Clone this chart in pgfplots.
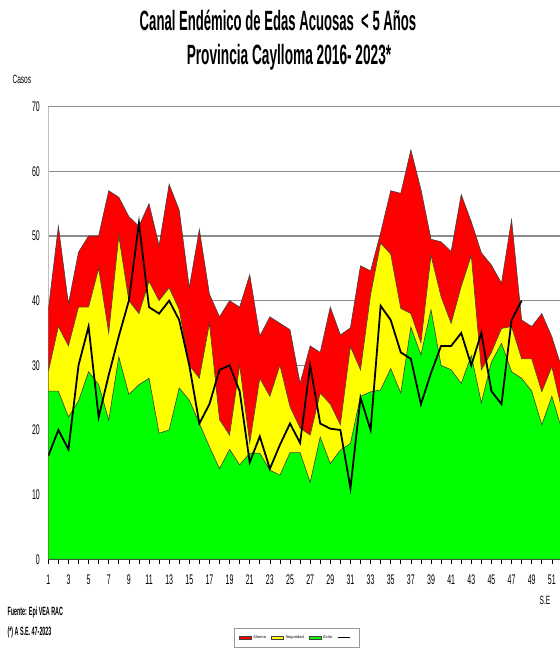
\documentclass[border=0pt]{standalone}
\usepackage{fontspec}
\setmainfont{Liberation Sans}
\usepackage{graphicx}
\usepackage{pgfplots}
\usepackage{pgfplotstable}
\pgfplotsset{compat=1.18}

\definecolor{alarma}{RGB}{255,0,0}
\definecolor{segur}{RGB}{255,255,0}
\definecolor{exito}{RGB}{0,255,0}

\pgfplotsset{
  areaimg/.style={legend image code/.code={\draw[##1] (0bp,-1.5bp) rectangle (12bp,1.5bp);}},
  lineimg/.style={legend image code/.code={\draw[##1, line width=1bp] (0bp,0bp) -- (12bp,0bp);}},
}

\pgfplotstableread{
w g y r
1 26 29 38.5
2 26 36 51.5
3 22 33 39.5
4 24.5 39 47.5
5 29 39 50
6 27 45 50
7 21.5 35 57
8 31.3 50 56
9 25.5 40 53
10 27 38 51.5
11 28 43 55
12 19.5 40 48.5
13 20 42 58
14 26.5 38.6 54
15 24.6 30 42
16 21 28 51
17 17.4 36.5 41
18 14 21.6 37.5
19 17 19.2 40
20 14.6 30 39
21 16.4 18 44
22 16.4 28 34.5
23 13.8 25.2 37.5
24 13 30 36.5
25 16.5 23.6 35.5
26 16.5 20.3 27.2
27 11.9 19.2 33
28 18.9 25.7 32
29 14.8 24 39
30 16.9 20.8 34.7
31 17.9 32.9 35.8
32 25.2 29.3 45.4
33 25.9 40.9 44.6
34 26.2 48.9 50.5
35 29.5 47.2 57
36 25.7 38.8 56.6
37 35.9 38 63.3
38 31.6 33.5 57.2
39 38.6 47 49.5
40 30 40.6 49.1
41 29.3 36.5 47.6
42 27.2 42.2 56.4
43 31.5 47 52.2
44 24.2 29.3 47.4
45 30.5 32 45.5
46 33.4 35.7 42.7
47 29 36 52.5
48 28 31 37
49 26 31 36
50 20.8 25.9 38
51 25.2 29.8 34.4
52 20 23 29.5
}\canal

\pgfplotstableread{
w c
1 16
2 20
3 17
4 30
5 36
6 22
7 28.5
8 34.5
9 40
10 52
11 39
12 38
13 40
14 37
15 30
16 21
17 24
18 29.3
19 30
20 26
21 15
22 19
23 14
24 17.7
25 21
26 18
27 30
28 21
29 20.2
30 20
31 11
32 25
33 20
34 39.2
35 37
36 32
37 31
38 24
39 28.8
40 33
41 33
42 35
43 30
44 35
45 26
46 24
47 37
48 40
}\casos

\begin{document}
\begin{tikzpicture}[x=1bp,y=1bp]
\path[use as bounding box] (0,0) rectangle (560,649);
\begin{axis}[
  at={(48.3bp,89.7bp)}, anchor=south west,
  scale only axis, width=511.7bp, height=452.6bp,
  xmin=1, xmax=51.81, ymin=0, ymax=70,
  axis x line*=bottom, axis y line*=left,
  x axis line style={black, line width=1bp},
  y axis line style={black!25, line width=1bp},
  xtick={1,3,...,51}, minor xtick={2,4,...,52},
  tick align=outside,
  major tick length=5bp, minor tick length=5bp,
  xtick style={black, line width=0.6bp},
  minor x tick style={black, line width=0.6bp},
  ytick={0,10,...,70}, ytick style={draw=none},
  ymajorgrids, grid style={black!45, line width=1.2bp},
  /pgf/number format/assume math mode=true,
  tick label style={font=\fontsize{14}{14}\selectfont},
  xticklabel={\scalebox{0.5}[1]{\pgfmathprintnumber{\tick}}},
  yticklabel={\scalebox{0.5}[1]{\pgfmathprintnumber{\tick}}},
  x tick label style={yshift=-7bp},
  legend columns=4,
  legend style={at={(0.485,-0.1728)}, anchor=center, draw=black!40,
    font=\fontsize{4}{5}\selectfont,
    /tikz/every even column/.append style={column sep=3bp},
    inner xsep=5bp, inner ysep=5bp},
]
\addplot[fill=alarma, draw=black!75, line width=0.6bp, area legend, areaimg]
  table[x=w,y=r]{\canal} \closedcycle;
\addlegendentry{Alarma}
\addplot[fill=segur, draw=black!75, line width=0.6bp, area legend, areaimg]
  table[x=w,y=y]{\canal} \closedcycle;
\addlegendentry{Seguridad}
\addplot[fill=exito, draw=black!75, line width=0.6bp, area legend, areaimg]
  table[x=w,y=g]{\canal} \closedcycle;
\addlegendentry{Éxito}
\addplot[black, line width=1.8bp, lineimg]
  table[x=w,y=c]{\casos};
\addlegendentry{}
\end{axis}
\node[anchor=base, font=\fontsize{28}{28}\selectfont\bfseries] at (278,618)
  {\scalebox{0.47}[1]{Canal Endémico de Edas Acuosas ~< 5 Años}};
\node[anchor=base, font=\fontsize{28}{28}\selectfont\bfseries] at (289,584)
  {\scalebox{0.49}[1]{Provincia Caylloma 2016- 2023*}};
\node[anchor=base west, font=\fontsize{12}{12}\selectfont] at (9,565)
  {\scalebox{0.55}[1]{Casos}};
\node[anchor=base, font=\fontsize{12}{12}\selectfont] at (545,44)
  {\scalebox{0.55}[1]{S.E}};
\node[anchor=base west, font=\fontsize{12}{12}\selectfont\bfseries] at (4,33)
  {\scalebox{0.45}[1]{Fuente: Epi VEA RAC}};
\node[anchor=base west, font=\fontsize{12}{12}\selectfont\bfseries] at (4,13)
  {\scalebox{0.45}[1]{(*) A S.E. 47-2023}};
\end{tikzpicture}
\end{document}
